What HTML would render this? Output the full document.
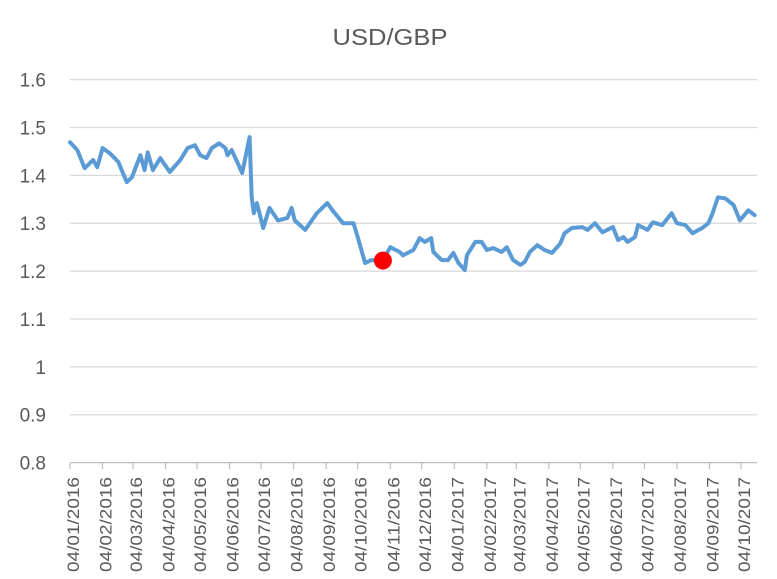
<!DOCTYPE html>
<html><head><meta charset="utf-8"><style>
body{margin:0;background:#fff}
svg{display:block;font-family:"Liberation Sans",Arial,sans-serif}
</style></head><body>
<svg id="chart" width="777" height="579">
<text x="390" y="45" text-anchor="middle" font-size="23" textLength="115" lengthAdjust="spacingAndGlyphs" fill="#595959">USD/GBP</text>
<g id="grid"></g><g id="ylabels"></g><g id="xaxis"></g><g id="series"></g>
</svg>
<script>
const yTicks=[0.8,0.9,1,1.1,1.2,1.3,1.4,1.5,1.6];
const yTickLabels=["0.8","0.9","1","1.1","1.2","1.3","1.4","1.5","1.6"];
const xTickLabels=["04/01/2016","04/02/2016","04/03/2016","04/04/2016","04/05/2016","04/06/2016","04/07/2016","04/08/2016","04/09/2016","04/10/2016","04/11/2016","04/12/2016","04/01/2017","04/02/2017","04/03/2017","04/04/2017","04/05/2017","04/06/2017","04/07/2017","04/08/2017","04/09/2017","04/10/2017"];
const dayOffsets=[0,7,14,22,26,31,38,46,54,59,67,71,74,79,86,95,105,112,119,124,130,135,142,148,150,154,164,171,173,175,178,184,190,198,207,211,214,224,235,245,250,260,270,274,281,287,298,305,314,317,327,333,338,344,346,354,360,365,370,376,378,386,392,397,403,411,416,422,429,433,438,445,452,459,467,471,478,488,493,500,507,517,522,527,531,538,541,550,555,564,573,578,586,593,602,608,612,617,624,632,638,646,652];
const rates=[1.469,1.453,1.415,1.432,1.417,1.457,1.446,1.428,1.386,1.396,1.442,1.411,1.448,1.411,1.436,1.407,1.432,1.457,1.463,1.442,1.436,1.457,1.467,1.457,1.442,1.453,1.405,1.480,1.354,1.321,1.342,1.290,1.332,1.306,1.311,1.332,1.306,1.286,1.321,1.342,1.327,1.300,1.300,1.271,1.217,1.223,1.222,1.250,1.240,1.233,1.244,1.269,1.261,1.269,1.240,1.223,1.223,1.238,1.217,1.202,1.233,1.261,1.261,1.244,1.248,1.240,1.250,1.223,1.213,1.219,1.240,1.254,1.244,1.238,1.258,1.279,1.290,1.292,1.286,1.300,1.281,1.292,1.265,1.271,1.261,1.271,1.296,1.286,1.302,1.296,1.321,1.300,1.296,1.279,1.290,1.300,1.321,1.354,1.352,1.338,1.306,1.327,1.317];
const markerDay=298, markerRate=1.222;

const NS="http://www.w3.org/2000/svg";
const X=d=>70+d*1.05;
const Y=v=>462.6-(v-0.8)*478.75;
function mk(t,a,p){const e=document.createElementNS(NS,t);for(const k in a)e.setAttribute(k,a[k]);p.appendChild(e);return e;}
const grid=document.getElementById('grid'),yl=document.getElementById('ylabels'),xa=document.getElementById('xaxis'),se=document.getElementById('series');
yTicks.forEach((v,i)=>{
  if(i>0){const l=mk('line',{x1:70,x2:757,y1:Y(v),y2:Y(v),stroke:'#d9d9d9','stroke-width':1.3},grid);
  
  }
  const t=mk('text',{x:46,y:Y(v)+7,'text-anchor':'end','font-size':19,fill:'#595959'},yl);
  t.textContent=yTickLabels[i];
  
  
});
const ax=mk('line',{x1:70,x2:757,y1:Y(0.8),y2:Y(0.8),stroke:'#bfbfbf','stroke-width':1.3},xa);


const base=Date.UTC(2016,0,4);
xTickLabels.forEach(s=>{
  const p=s.split('/');const d=(Date.UTC(+p[2],+p[1]-1,+p[0])-base)/864e5;const x=X(d);
  const tk=mk('line',{x1:x,x2:x,y1:463,y2:469,stroke:'#bfbfbf','stroke-width':1.2},xa);
  
  
  const t=mk('text',{x:0,y:0,'text-anchor':'end','font-size':17,textLength:95,lengthAdjust:'spacingAndGlyphs',fill:'#595959',transform:`translate(${x+9},477) rotate(-90)`},xa);
  t.textContent=s;
  
  
});
const pts=dayOffsets.map((d,i)=>X(d).toFixed(1)+','+Y(rates[i]).toFixed(1)).join(' ');
const pl=mk('polyline',{points:pts,fill:'none',stroke:'#5b9bd5','stroke-width':4,'stroke-linejoin':'round','stroke-linecap':'round'},se);


const c=mk('circle',{cx:X(markerDay),cy:Y(markerRate),r:9,fill:'#ff0000'},se);


</script>
</body></html>
